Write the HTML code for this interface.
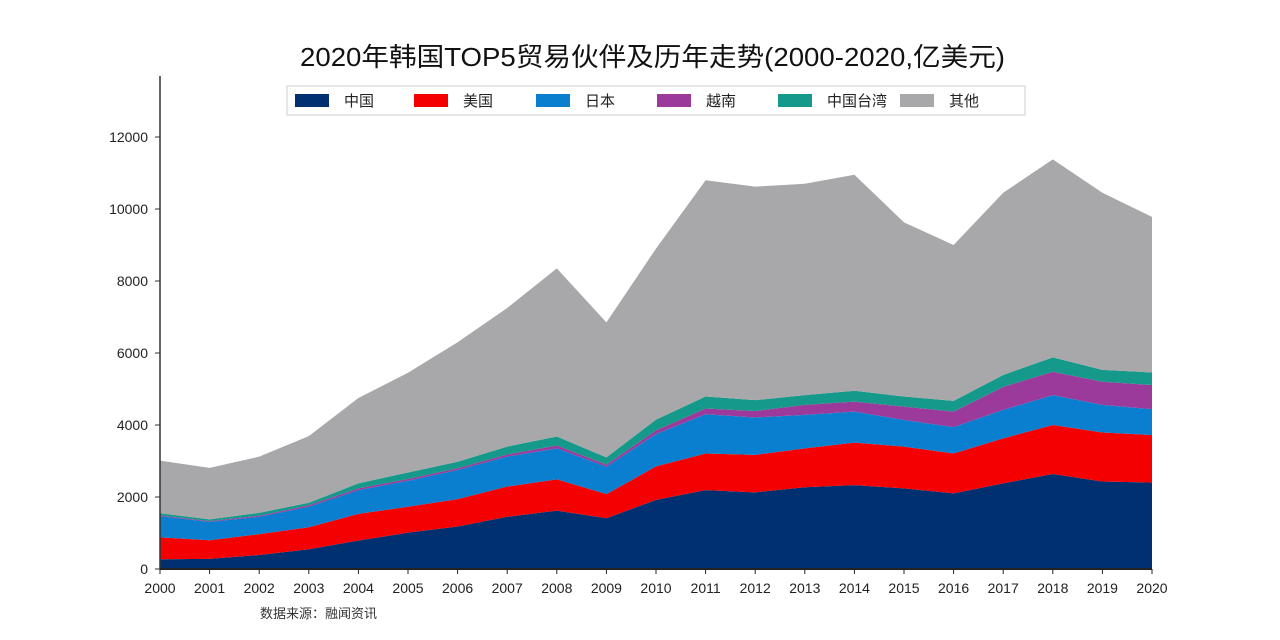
<!DOCTYPE html>
<html><head><meta charset="utf-8">
<style>
body{margin:0;background:#fff;}
svg{display:block;font-family:"Liberation Sans","Noto Sans CJK SC",sans-serif;}
</style></head>
<body>
<svg id="chart" width="1280" height="640">
<text x="300" y="66" textLength="705" lengthAdjust="spacingAndGlyphs" font-size="26" fill="#111">2020年韩国TOP5贸易伙伴及历年走势(2000-2020,亿美元)</text>
<rect x="287" y="86" width="738" height="29" fill="#fff" stroke="#ccc"/>
<g id="legend"></g>
<g id="areas"></g>
<g id="axes"></g>
<text x="260" y="618" font-size="13" fill="#333">数据来源：融闻资讯</text>
</svg>
<script>
const years=[2000,2001,2002,2003,2004,2005,2006,2007,2008,2009,2010,2011,2012,2013,2014,2015,2016,2017,2018,2019,2020];
const china=[270,280,390,550,790,1010,1180,1450,1620,1410,1920,2190,2130,2270,2330,2240,2100,2380,2640,2430,2400];
const usa=[610,520,580,610,740,720,760,840,870,670,930,1020,1040,1080,1180,1160,1110,1250,1360,1360,1320];
const japan=[590,510,480,570,660,720,810,830,860,760,900,1090,1040,930,860,740,730,790,830,770,720];
const vietnam=[20,20,30,40,50,50,50,60,80,60,100,160,180,280,280,370,430,640,650,640,670];
const taiwan=[60,50,80,70,140,180,180,220,250,200,300,330,300,270,300,280,300,330,400,330,350];
const others=[1460,1430,1560,1850,2370,2770,3320,3850,4670,3750,4750,6010,5930,5870,6000,4840,4330,5060,5500,4920,4320];
const seriesNames=["中国","美国","日本","越南","中国台湾","其他"];
const yTicks=[0,2000,4000,6000,8000,10000,12000];
const series=[china,usa,japan,vietnam,taiwan,others];
const colors=["#003070","#f50000","#0a7fcf","#9b3a9b","#14998a","#a8a8aa"];
const slugs=["china","usa","japan","vietnam","taiwan","others"];
const NS="http://www.w3.org/2000/svg";
const x0=160,x1=1152,y0=569,pxPer=0.036;
const X=i=>x0+(x1-x0)*(years[i]-years[0])/(years[years.length-1]-years[0]);
const Y=v=>y0-v*pxPer;
const areas=document.getElementById('areas');
let base=years.map(()=>0);
series.forEach((s,k)=>{
  const top=base.map((b,i)=>b+s[i]);
  let d='M'+years.map((_,i)=>X(i)+','+Y(top[i])).join('L');
  for(let i=years.length-1;i>=0;i--) d+='L'+X(i)+','+Y(base[i]);
  d+='Z';
  const p=document.createElementNS(NS,'path');
  p.setAttribute('d',d);p.setAttribute('fill',colors[k]);
  
  
  areas.appendChild(p);
  base=top;
});
const ax=document.getElementById('axes');
function add(tag,attrs,txt){const e=document.createElementNS(NS,tag);for(const a in attrs)e.setAttribute(a,attrs[a]);if(txt!==undefined)e.textContent=txt;ax.appendChild(e);return e;}
const ya=add('line',{x1:x0,y1:76,x2:x0,y2:y0,stroke:'#333','stroke-width':1.5});


const xa=add('line',{x1:x0,y1:y0,x2:x1,y2:y0,stroke:'#222','stroke-width':2});


yTicks.forEach(v=>{
  add('line',{x1:x0-5,y1:Y(v),x2:x0,y2:Y(v),stroke:'#333'});
  const t=add('text',{x:148,y:Y(v)+5,'text-anchor':'end','font-size':14,fill:'#222'},String(v));
  
  
});
years.forEach((yr,i)=>{
  add('line',{x1:X(i),y1:y0,x2:X(i),y2:y0+5,stroke:'#222'});
  const t=add('text',{x:X(i),y:y0+24,'text-anchor':'middle','font-size':14,fill:'#222'},String(yr));
  
  
});
const lg=document.getElementById('legend');
const lx=[295,414,536,657,778,900];
seriesNames.forEach((n,k)=>{
  const g=document.createElementNS(NS,'g');
  
  
  const r=document.createElementNS(NS,'rect');
  r.setAttribute('x',lx[k]);r.setAttribute('y',94);r.setAttribute('width',34);r.setAttribute('height',13);r.setAttribute('fill',colors[k]);
  const t=document.createElementNS(NS,'text');
  t.setAttribute('x',lx[k]+49);t.setAttribute('y',106);t.setAttribute('font-size',15);t.setAttribute('fill','#222');t.textContent=n;
  g.appendChild(r);g.appendChild(t);lg.appendChild(g);
});
</script>
</body></html>
